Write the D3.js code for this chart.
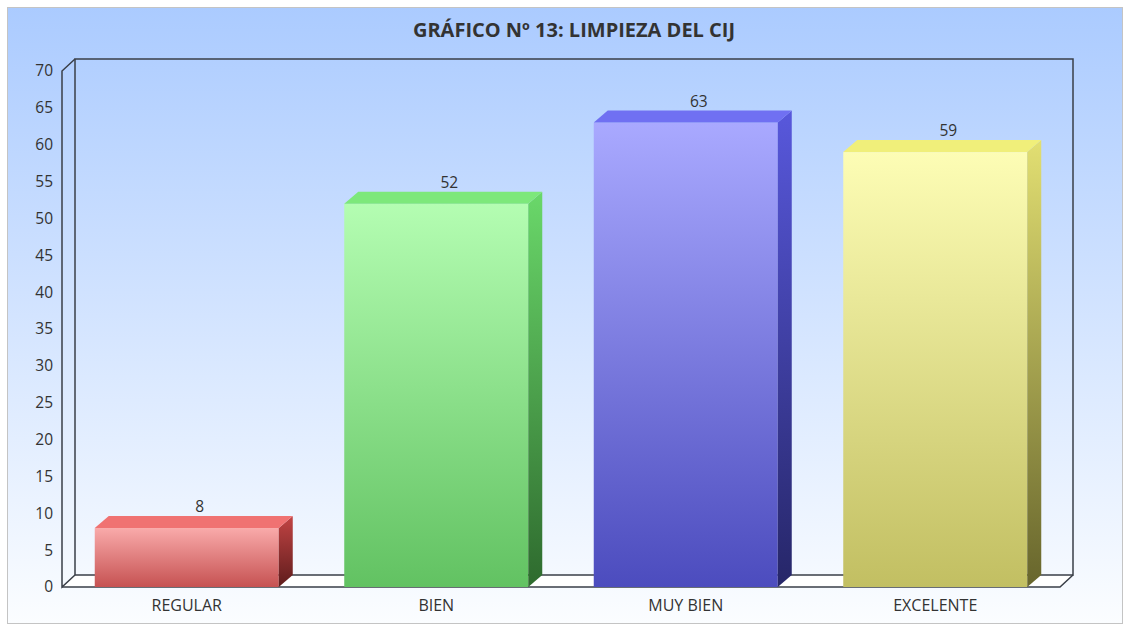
<!DOCTYPE html>
<html>
<head>
<meta charset="utf-8">
<script src="https://cdn.jsdelivr.net/npm/d3@7"></script>
<style>
  body { margin: 0; background: #fff; }
  text { font-family: 'Open Sans', sans-serif; fill: #333; }
</style>
</head>
<body>
<div id="chart"></div>
<script>
const categories = ['REGULAR', 'BIEN', 'MUY BIEN', 'EXCELENTE'];
const values = [8, 52, 63, 59];
const yTicks = [0, 5, 10, 15, 20, 25, 30, 35, 40, 45, 50, 55, 60, 65, 70];
const title = 'GRÁFICO Nº 13: LIMPIEZA DEL CIJ';

// front top, front bottom, top face, side top, side bottom
const PALETTE = [
  ['#f9aaaa', '#c65252', '#f07272', '#c24444', '#5e1c1c'],
  ['#b4fdb2', '#62c262', '#7de87b', '#6ad86a', '#2e6a2e'],
  ['#a9a9ff', '#4c4cbe', '#7070f2', '#5858dc', '#262668'],
  ['#fdfdb5', '#c2bf62', '#f0ef7a', '#e2df72', '#67652c']
];

const W = 1130, H = 630;
const PLOT = { left: 62, right: 1060, top: 71, bottom: 587 };
const WALL = { dx: 13, dy: 12 };
const BAR = { dx: 14, dy: 12 };

const svg = d3.select('#chart').append('svg')
  .attr('width', W)
  .attr('height', H);

const defs = svg.append('defs');

let bg = defs.append('linearGradient')
  .attr('id', 'bg').attr('x1', 0).attr('y1', 0).attr('x2', 0).attr('y2', 1);
bg.append('stop').attr('offset', 0).attr('stop-color', '#abcbff');
bg.append('stop').attr('offset', 1).attr('stop-color', '#fbfdff');

PALETTE.forEach((c, i) => {
  let f = defs.append('linearGradient')
    .attr('id', `front${i}`).attr('x1', 0).attr('y1', 0).attr('x2', 0).attr('y2', 1);
  f.append('stop').attr('offset', 0).attr('stop-color', c[0]);
  f.append('stop').attr('offset', 1).attr('stop-color', c[1]);
  let s = defs.append('linearGradient')
    .attr('id', `side${i}`).attr('x1', 0).attr('y1', 0).attr('x2', 0).attr('y2', 1);
  s.append('stop').attr('offset', 0).attr('stop-color', c[3]);
  s.append('stop').attr('offset', 1).attr('stop-color', c[4]);
});

svg.append('rect')
  .attr('x', 0).attr('y', 0).attr('width', W).attr('height', H)
  .attr('fill', '#fff');
svg.append('rect')
  .attr('x', 7.5).attr('y', 7.5).attr('width', W - 15).attr('height', H - 14)
  .attr('fill', 'url(#bg)')
  .attr('stroke', '#c4c4c4');

// Title
svg.append('text')
  .attr('x', W / 2 + 9).attr('y', 37)
  .attr('text-anchor', 'middle')
  .attr('font-size', 20)
  .attr('font-weight', 'bold')
  .text(title);

var x = d3.scaleBand()
  .domain(categories)
  .range([PLOT.left, PLOT.right])
  .paddingInner(0.2625)
  .paddingOuter(0.13125);
var y = d3.scaleLinear()
  .domain([0, 70])
  .range([PLOT.bottom, PLOT.top]);

// Walls and floor
const backL = PLOT.left + WALL.dx, backR = PLOT.right + WALL.dx;
const backT = y(70) - WALL.dy, backB = y(0) - WALL.dy;

svg.append('polygon')
  .attr('points', [[PLOT.left, y(0)], [backL, backB], [backR, backB], [PLOT.right, y(0)]].join(' '))
  .attr('fill', '#fff');

let walls = svg.append('g')
  .attr('fill', 'none')
  .attr('stroke', '#3a3f48')
  .attr('stroke-width', 1.5);
walls.append('path')
  .attr('d', `M${backL},${backB}V${backT}H${backR}V${backB}H${backL}`);
walls.append('path')
  .attr('d', `M${backL},${backT}L${PLOT.left},${y(70)}V${y(0)}L${backL},${backB}`);
walls.append('path')
  .attr('d', `M${PLOT.left},${y(0)}H${PLOT.right}L${backR},${backB}`);

// Y axis labels
svg.append('g').selectAll('text')
    .data(yTicks)
  .enter().append('text')
    .attr('x', 53)
    .attr('y', d => y(d))
    .attr('dy', '0.35em')
    .attr('text-anchor', 'end')
    .attr('font-size', 15.5)
    .text(d => d);

// Bars
let bars = svg.append('g').selectAll('.bar')
    .data(categories.map((c, i) => ({ c, v: values[i], i })))
  .enter().append('g')
    .classed('bar', true);

bars.append('rect')
  .attr('x', d => x(d.c))
  .attr('y', d => y(d.v))
  .attr('width', x.bandwidth())
  .attr('height', d => y(0) - y(d.v))
  .attr('fill', d => `url(#front${d.i})`);

bars.append('polygon')
  .attr('points', d => {
    let x0 = x(d.c) + x.bandwidth(), t = y(d.v), b = y(0);
    return [[x0, t], [x0 + BAR.dx, t - BAR.dy], [x0 + BAR.dx, b - BAR.dy], [x0, b]].join(' ');
  })
  .attr('fill', d => `url(#side${d.i})`);

bars.append('polygon')
  .attr('points', d => {
    let x0 = x(d.c), x1 = x0 + x.bandwidth(), t = y(d.v);
    return [[x0, t], [x0 + BAR.dx, t - BAR.dy], [x1 + BAR.dx, t - BAR.dy], [x1, t]].join(' ');
  })
  .attr('fill', d => PALETTE[d.i][2]);

// Value labels
bars.append('text')
  .attr('x', d => x(d.c) + x.bandwidth() / 2 + BAR.dx - 1)
  .attr('y', d => y(d.v) - BAR.dy - 4)
  .attr('text-anchor', 'middle')
  .attr('font-size', 15.5)
  .text(d => d.v);

// Category labels
svg.append('g').selectAll('text')
    .data(categories)
  .enter().append('text')
    .attr('x', d => x(d) + x.bandwidth() / 2)
    .attr('y', 611)
    .attr('text-anchor', 'middle')
    .attr('font-size', 16)
    .text(d => d);
</script>
</body>
</html>
